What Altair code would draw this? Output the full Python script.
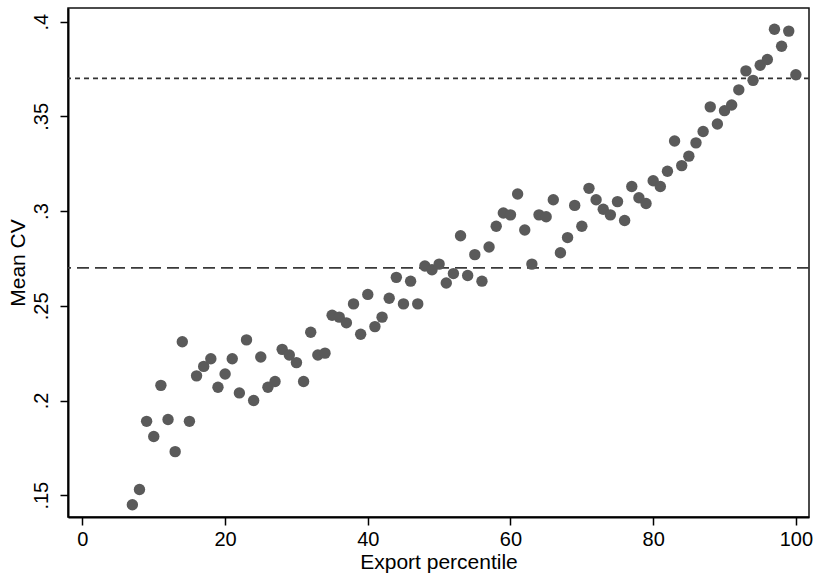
import altair as alt
import pandas as pd

percentile = [7, 8, 9, 10, 11, 12, 13, 14, 15, 16, 17, 18, 19, 20, 21, 22, 23, 24, 25, 26,
              27, 28, 29, 30, 31, 32, 33, 34, 35, 36, 37, 38, 39, 40, 41, 42, 43, 44, 45, 46,
              47, 48, 49, 50, 51, 52, 53, 54, 55, 56, 57, 58, 59, 60, 61, 62, 63, 64, 65, 66,
              67, 68, 69, 70, 71, 72, 73, 74, 75, 76, 77, 78, 79, 80, 81, 82, 83, 84, 85, 86,
              87, 88, 89, 90, 91, 92, 93, 94, 95, 96, 97, 98, 99, 100]
mean_cv = [0.145, 0.153, 0.189, 0.181, 0.208, 0.190, 0.173, 0.231, 0.189, 0.213,
           0.218, 0.222, 0.207, 0.214, 0.222, 0.204, 0.232, 0.200, 0.223, 0.207,
           0.210, 0.227, 0.224, 0.220, 0.210, 0.236, 0.224, 0.225, 0.245, 0.244,
           0.241, 0.251, 0.235, 0.256, 0.239, 0.244, 0.254, 0.265, 0.251, 0.263,
           0.251, 0.271, 0.269, 0.272, 0.262, 0.267, 0.287, 0.266, 0.277, 0.263,
           0.281, 0.292, 0.299, 0.298, 0.309, 0.290, 0.272, 0.298, 0.297, 0.306,
           0.278, 0.286, 0.303, 0.292, 0.312, 0.306, 0.301, 0.298, 0.305, 0.295,
           0.313, 0.307, 0.304, 0.316, 0.313, 0.321, 0.337, 0.324, 0.329, 0.336,
           0.342, 0.355, 0.346, 0.353, 0.356, 0.364, 0.374, 0.369, 0.377, 0.380,
           0.396, 0.387, 0.395, 0.372]

x_ticks = [0, 20, 40, 60, 80, 100]
y_ticks = [0.15, 0.2, 0.25, 0.3, 0.35, 0.4]
dashed_ref = [0.27]
dotted_ref = [0.37]

FONT = "Liberation Sans"

df = pd.DataFrame({"pct": percentile, "cv": mean_cv})

xscale = alt.Scale(domain=[-2.02, 101.84], nice=False, zero=False)
yscale = alt.Scale(domain=[0.1385, 0.4072], nice=False, zero=False)

points = alt.Chart(df).mark_circle(size=130, color="#5a5a5a", opacity=1).encode(
    x=alt.X("pct:Q", scale=xscale,
            axis=alt.Axis(title="Export percentile", values=x_ticks, format="d",
                          grid=False, tickSize=8, labelPadding=4, titlePadding=2,
                          labelFontSize=20, titleFontSize=21)),
    y=alt.Y("cv:Q", scale=yscale,
            axis=alt.Axis(title="Mean CV", values=y_ticks,
                          labelExpr="substring(format(datum.value, '.2~f'), 1)",
                          grid=False, tickSize=8, labelPadding=9, titlePadding=3,
                          labelAngle=270, labelAlign="center", labelBaseline="bottom",
                          labelFontSize=20, titleFontSize=21)),
)

dash_rule = alt.Chart(pd.DataFrame({"y": dashed_ref})).mark_rule(
    color="#3a3a3a", strokeWidth=1.8, strokeDash=[12, 6]
).encode(y=alt.Y("y:Q", scale=yscale))

dot_rule = alt.Chart(pd.DataFrame({"y": dotted_ref})).mark_rule(
    color="#333333", strokeWidth=1.8, strokeDash=[5, 4]
).encode(y=alt.Y("y:Q", scale=yscale))

chart = alt.layer(dash_rule, dot_rule, points).properties(
    width=741, height=509,
    autosize=alt.AutoSizeParams(type="none"),
    padding={"left": 68, "top": 8, "right": 8, "bottom": 60},
    background="white",
).configure_view(
    stroke="#111111", strokeWidth=1.5
).configure_axis(
    labelFont=FONT, titleFont=FONT, labelColor="#000000", titleColor="#000000",
    titleFontWeight="normal", domainColor="#000000", domainWidth=2,
    tickColor="#000000", tickWidth=1.5,
)

chart.save("out.html", embed_options={"renderer": "svg", "actions": False})
